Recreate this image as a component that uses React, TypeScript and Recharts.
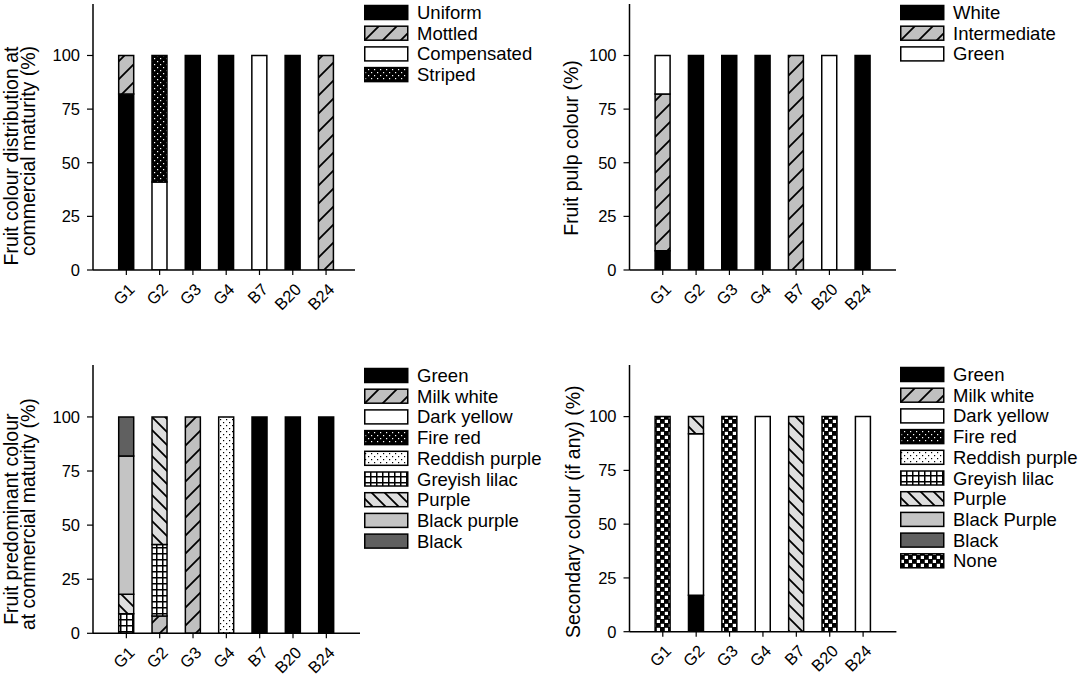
import React from 'react';
import { BarChart, Bar, XAxis, YAxis, Legend } from 'recharts';

const FONT = "Arial, 'Liberation Sans', Helvetica, sans-serif";

const categories = ['G1', 'G2', 'G3', 'G4', 'B7', 'B20', 'B24'];
const yTicks = [0, 25, 50, 75, 100];

// Panel A: fruit colour distribution at commercial maturity (%)
const skinUniform = [82, 0, 100, 100, 0, 100, 0];
const skinMottled = [18, 0, 0, 0, 0, 0, 100];
const skinCompensated = [0, 41, 0, 0, 100, 0, 0];
const skinStriped = [0, 59, 0, 0, 0, 0, 0];

// Panel B: fruit pulp colour (%)
const pulpWhite = [9, 100, 100, 100, 0, 0, 100];
const pulpIntermediate = [73, 0, 0, 0, 100, 0, 0];
const pulpGreen = [18, 0, 0, 0, 0, 100, 0];

// Panel C: fruit predominant colour at commercial maturity (%)
const predGreen = [0, 0, 0, 0, 100, 100, 100];
const predMilkWhite = [0, 8, 100, 0, 0, 0, 0];
const predDarkYellow = [0, 0, 0, 0, 0, 0, 0];
const predFireRed = [0, 0, 0, 0, 0, 0, 0];
const predReddishPurple = [0, 0, 0, 100, 0, 0, 0];
const predGreyishLilac = [9, 33, 0, 0, 0, 0, 0];
const predPurple = [9, 59, 0, 0, 0, 0, 0];
const predBlackPurple = [64, 0, 0, 0, 0, 0, 0];
const predBlack = [18, 0, 0, 0, 0, 0, 0];

// Panel D: secondary colour (if any) (%)
const secGreen = [0, 17, 0, 0, 0, 0, 0];
const secMilkWhite = [0, 0, 0, 0, 0, 0, 0];
const secDarkYellow = [0, 75, 0, 100, 0, 0, 100];
const secFireRed = [0, 0, 0, 0, 0, 0, 0];
const secReddishPurple = [0, 0, 0, 0, 0, 0, 0];
const secGreyishLilac = [0, 0, 0, 0, 0, 0, 0];
const secPurple = [0, 8, 0, 0, 100, 0, 0];
const secBlackPurple = [0, 0, 0, 0, 0, 0, 0];
const secBlack = [0, 0, 0, 0, 0, 0, 0];
const secNone = [100, 0, 100, 0, 0, 100, 0];

type Series = { key: string; name: string; values: number[]; pattern: string };

const seriesA: Series[] = [
  { key: 'uniform', name: 'Uniform', values: skinUniform, pattern: 'solid' },
  { key: 'mottled', name: 'Mottled', values: skinMottled, pattern: 'fwd' },
  { key: 'compensated', name: 'Compensated', values: skinCompensated, pattern: 'white' },
  { key: 'striped', name: 'Striped', values: skinStriped, pattern: 'dotsBlack' },
];
const seriesB: Series[] = [
  { key: 'white', name: 'White', values: pulpWhite, pattern: 'solid' },
  { key: 'intermediate', name: 'Intermediate', values: pulpIntermediate, pattern: 'fwd' },
  { key: 'green', name: 'Green', values: pulpGreen, pattern: 'white' },
];
const seriesC: Series[] = [
  { key: 'green', name: 'Green', values: predGreen, pattern: 'solid' },
  { key: 'milkWhite', name: 'Milk white', values: predMilkWhite, pattern: 'fwd' },
  { key: 'darkYellow', name: 'Dark yellow', values: predDarkYellow, pattern: 'white' },
  { key: 'fireRed', name: 'Fire red', values: predFireRed, pattern: 'dotsBlack' },
  { key: 'reddishPurple', name: 'Reddish purple', values: predReddishPurple, pattern: 'dotsWhite' },
  { key: 'greyishLilac', name: 'Greyish lilac', values: predGreyishLilac, pattern: 'grid' },
  { key: 'purple', name: 'Purple', values: predPurple, pattern: 'back' },
  { key: 'blackPurple', name: 'Black purple', values: predBlackPurple, pattern: 'grey' },
  { key: 'black', name: 'Black', values: predBlack, pattern: 'dark' },
];
const seriesD: Series[] = [
  { key: 'green', name: 'Green', values: secGreen, pattern: 'solid' },
  { key: 'milkWhite', name: 'Milk white', values: secMilkWhite, pattern: 'fwd' },
  { key: 'darkYellow', name: 'Dark yellow', values: secDarkYellow, pattern: 'white' },
  { key: 'fireRed', name: 'Fire red', values: secFireRed, pattern: 'dotsBlack' },
  { key: 'reddishPurple', name: 'Reddish purple', values: secReddishPurple, pattern: 'dotsWhite' },
  { key: 'greyishLilac', name: 'Greyish lilac', values: secGreyishLilac, pattern: 'grid' },
  { key: 'purple', name: 'Purple', values: secPurple, pattern: 'back' },
  { key: 'blackPurple', name: 'Black Purple', values: secBlackPurple, pattern: 'grey' },
  { key: 'black', name: 'Black', values: secBlack, pattern: 'dark' },
  { key: 'none', name: 'None', values: secNone, pattern: 'none' },
];

const Patterns = ({ p }: { p: string }) => (
  <defs>
    <pattern id={`${p}-solid`} patternUnits="userSpaceOnUse" width={10} height={10}>
      <rect width={10} height={10} fill="#000" />
    </pattern>
    <pattern id={`${p}-white`} patternUnits="userSpaceOnUse" width={10} height={10}>
      <rect width={10} height={10} fill="#fff" />
    </pattern>
    <pattern id={`${p}-grey`} patternUnits="userSpaceOnUse" width={10} height={10}>
      <rect width={10} height={10} fill="#c4c4c4" />
    </pattern>
    <pattern id={`${p}-dark`} patternUnits="userSpaceOnUse" width={10} height={10}>
      <rect width={10} height={10} fill="#606060" />
    </pattern>
    <pattern id={`${p}-fwd`} patternUnits="userSpaceOnUse" width={18} height={18}>
      <rect width={18} height={18} fill="#c0c0c0" />
      <path d="M-4.5,4.5 L4.5,-4.5 M0,18 L18,0 M13.5,22.5 L22.5,13.5" stroke="#000" strokeWidth={1.8} />
    </pattern>
    <pattern id={`${p}-back`} patternUnits="userSpaceOnUse" width={13} height={13}>
      <rect width={13} height={13} fill="#dedede" />
      <path d="M-3.25,9.75 L3.25,16.25 M0,0 L13,13 M9.75,-3.25 L16.25,3.25" stroke="#000" strokeWidth={1.8} />
    </pattern>
    <pattern id={`${p}-dotsBlack`} patternUnits="userSpaceOnUse" width={6} height={6}>
      <rect width={6} height={6} fill="#000" />
      <rect x={1} y={1} width={1.2} height={1.2} fill="#fff" />
      <rect x={4} y={4} width={1.2} height={1.2} fill="#fff" />
    </pattern>
    <pattern id={`${p}-dotsWhite`} patternUnits="userSpaceOnUse" width={6} height={6}>
      <rect width={6} height={6} fill="#fff" />
      <rect x={1} y={1} width={1.2} height={1.2} fill="#000" />
      <rect x={4} y={4} width={1.2} height={1.2} fill="#000" />
    </pattern>
    <pattern id={`${p}-grid`} patternUnits="userSpaceOnUse" width={6} height={6}>
      <rect width={6} height={6} fill="#fff" />
      <path d="M0,0.75 H6 M0.75,0 V6" stroke="#000" strokeWidth={1.5} />
    </pattern>
    <pattern id={`${p}-none`} patternUnits="userSpaceOnUse" width={8} height={8}>
      <rect width={8} height={8} fill="#000" />
      <rect x={0.8} y={0.8} width={3.2} height={3.2} fill="#fff" />
      <rect x={4.8} y={4.8} width={3.2} height={3.2} fill="#fff" />
    </pattern>
  </defs>
);

const RotTick = (props: any) => {
  const { x, y, payload } = props;
  return (
    <g transform={`translate(${x + 1},${y})`}>
      <text textAnchor="end" transform="rotate(-45)" dy="0.72em" fontSize={16.5} fontFamily={FONT} fill="#000">
        {payload.value}
      </text>
    </g>
  );
};

type PanelProps = {
  prefix: string;
  left: number;
  top: number;
  width: number;
  height: number;
  margin: { top: number; right: number; bottom: number; left: number };
  xHeight: number;
  padding: { left: number; right: number };
  series: Series[];
  titleLines: string[];
  titleX: number[];
  titleDy: number[];
  legendLeft: number;
  legendTop: number;
};

const ROW = 20.7;

const LegendBody = ({ series, prefix }: { series: Series[]; prefix: string }) => (
  <svg width={220} height={series.length * ROW + 6} style={{ overflow: 'visible', display: 'block' }}>
    {series.map((s, i) => {
      const cy = 7.5 + i * ROW;
      return (
        <g key={s.key}>
          <rect x={0.75} y={cy - 7} width={43} height={14} fill={`url(#${prefix}-${s.pattern})`} stroke="#000" strokeWidth={1.5} />
          <text x={53} y={cy + 6.5} fontSize={18.5} fontFamily={FONT} fill="#000">
            {s.name}
          </text>
        </g>
      );
    })}
  </svg>
);

const Panel = (p: PanelProps) => {
  const data = categories.map((c, i) => {
    const row: Record<string, any> = { name: c };
    p.series.forEach((s) => {
      row[s.key] = s.values[i];
    });
    return row;
  });
  const axisLine = { stroke: '#000', strokeWidth: 1.5 };
  const titleContent = (props: any) => {
    const vb = props.viewBox || { y: 0, height: 0 };
    const cy = vb.y + vb.height / 2;
    return (
      <g>
        {p.titleLines.map((t, i) => {
          const tx = p.titleX[i];
          const ty = cy + p.titleDy[i];
          return (
            <text
              key={i}
              x={tx}
              y={ty}
              transform={`rotate(-90, ${tx}, ${ty})`}
              textAnchor="middle"
              fontSize={19.5}
              fontFamily={FONT}
              fill="#000"
            >
              {t}
            </text>
          );
        })}
      </g>
    );
  };
  return (
    <div style={{ position: 'absolute', left: p.left, top: p.top, width: p.width, height: p.height }}>
      <BarChart width={p.width} height={p.height} data={data} margin={p.margin}>
        <Patterns p={p.prefix} />
        <XAxis
          dataKey="name"
          interval={0}
          padding={p.padding}
          height={p.xHeight}
          tickSize={5}
          tickMargin={7}
          tick={<RotTick />}
          axisLine={axisLine}
          tickLine={{ stroke: '#000', strokeWidth: 1.2 }}
        />
        <XAxis xAxisId="top" orientation="top" dataKey="name" height={0} tick={false} tickLine={false} axisLine={axisLine} />
        <YAxis
          type="number"
          domain={[0, 124]}
          ticks={yTicks}
          interval={0}
          allowDataOverflow
          width={50}
          tickSize={6}
          tickMargin={7}
          axisLine={axisLine}
          tickLine={{ stroke: '#000', strokeWidth: 1.2 }}
          tick={{ fill: '#000', fontSize: 16.5, fontFamily: FONT }}
          label={{ content: titleContent }}
        />
        <YAxis
          yAxisId="right"
          orientation="right"
          type="number"
          domain={[0, 124]}
          width={0}
          tick={false}
          tickLine={false}
          axisLine={axisLine}
        />
        {p.series.map((s) => (
          <Bar
            key={s.key}
            dataKey={s.key}
            name={s.name}
            stackId="a"
            barSize={15}
            fill={`url(#${p.prefix}-${s.pattern})`}
            stroke="#000"
            strokeWidth={1.5}
            isAnimationActive={false}
          />
        ))}
        <Legend
          layout="vertical"
          align="center"
          verticalAlign="middle"
          wrapperStyle={{ position: 'absolute', left: p.legendLeft, top: p.legendTop, width: 220, height: p.series.length * ROW + 6 }}
          content={() => <LegendBody series={p.series} prefix={p.prefix} />}
        />
      </BarChart>
    </div>
  );
};

export default function App() {
  return (
    <div style={{ position: 'absolute', left: 0, top: 0, width: 1084, height: 686, background: '#fff', overflow: 'hidden' }}>
      <Panel
        prefix="pa"
        left={0}
        top={0}
        width={540}
        height={340}
        margin={{ top: 4, right: 185, bottom: 20, left: 43 }}
        xHeight={50}
        padding={{ left: 16.7, right: 12.3 }}
        series={seriesA}
        titleLines={['Fruit colour distribution at', 'commercial maturity (%)']}
        titleX={[18, 35]}
        titleDy={[19, 14]}
        legendLeft={364.3}
        legendTop={5}
      />
      <Panel
        prefix="pb"
        left={540}
        top={0}
        width={544}
        height={340}
        margin={{ top: 4, right: 188, bottom: 20, left: 39.5 }}
        xHeight={50}
        padding={{ left: 16.6, right: 16.6 }}
        series={seriesB}
        titleLines={['Fruit pulp colour (%)']}
        titleX={[38]}
        titleDy={[11]}
        legendLeft={359.8}
        legendTop={5}
      />
      <Panel
        prefix="pc"
        left={0}
        top={343}
        width={540}
        height={343}
        margin={{ top: 22, right: 180, bottom: 7.7, left: 43 }}
        xHeight={45}
        padding={{ left: 16.7, right: 17 }}
        series={seriesC}
        titleLines={['Fruit predominant colour', 'at commercial maturity (%)']}
        titleX={[18, 35]}
        titleDy={[20, 15]}
        legendLeft={364.3}
        legendTop={24.5}
      />
      <Panel
        prefix="pd"
        left={540}
        top={343}
        width={544}
        height={343}
        margin={{ top: 22, right: 187.6, bottom: 9.3, left: 39.5 }}
        xHeight={45}
        padding={{ left: 16.6, right: 16.6 }}
        series={seriesD}
        titleLines={['Secondary colour (if any) (%)']}
        titleX={[40]}
        titleDy={[13.4]}
        legendLeft={359.8}
        legendTop={23.5}
      />
    </div>
  );
}
